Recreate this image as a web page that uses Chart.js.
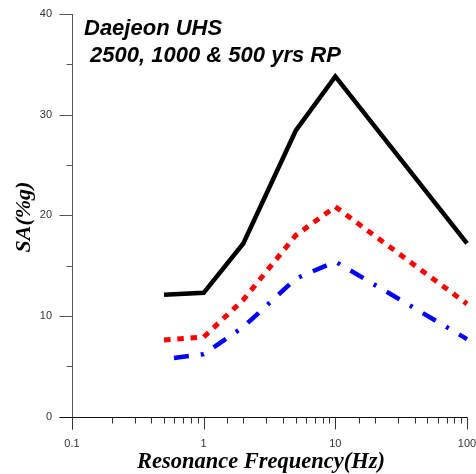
<!DOCTYPE html>
<html><head><meta charset="utf-8">
<script src="https://cdn.jsdelivr.net/npm/chart.js@4"></script>
<style>html,body{margin:0;padding:0;background:#fff}canvas{display:block}</style>
</head><body>
<canvas id="c" width="476" height="474"></canvas>
<script>
const freqs = [0.5, 1, 2, 5, 10, 100];
const rp2500 = [12.1, 12.3, 17.2, 28.4, 33.8, 17.2];
const rp1000 = [7.6, 7.9, 11.6, 18.0, 20.85, 11.2];
const rp500 = [5.7, 6.2, 8.9, 13.7, 15.4, 7.7];
const xTickLabels = [0.1, 1, 10, 100];
const yTickLabels = [0, 10, 20, 30, 40];
const titleLines = ['Daejeon UHS', ' 2500, 1000 & 500 yrs RP'];
const xTitle = 'Resonance Frequency(Hz)';
const yTitle = 'SA(%g)';

const pts = arr => freqs.map((f, i) => ({x: f, y: arr[i]}));
const isMajorX = v => xTickLabels.some(t => Math.abs(t - v) < 1e-9 * Math.max(1, t));

const axesPlugin = {
  id: 'axesDeco',
  afterDraw(chart) {
    const {ctx, chartArea: a, scales: {x, y}} = chart;
    ctx.save();
    const ax = Math.round(a.left) + 0.5;
    const ay = Math.round(a.bottom) + 0.5;
    ctx.lineWidth = 1;
    ctx.strokeStyle = '#555';
    ctx.beginPath(); ctx.moveTo(ax, Math.round(a.top)); ctx.lineTo(ax, ay + 12); ctx.stroke();
    y.ticks.forEach(t => {
      const py = Math.round(y.getPixelForValue(t.value)) + 0.5;
      const len = yTickLabels.includes(t.value) ? 13 : 6;
      ctx.beginPath(); ctx.moveTo(ax - len, py); ctx.lineTo(ax, py); ctx.stroke();
    });
    ctx.strokeStyle = '#111';
    ctx.beginPath(); ctx.moveTo(ax - 13, ay); ctx.lineTo(Math.round(a.right) + 0.5, ay); ctx.stroke();
    ctx.strokeStyle = '#333';
    x.ticks.forEach(t => {
      const px = Math.round(x.getPixelForValue(t.value)) + 0.5;
      const len = isMajorX(t.value) ? 12 : 6;
      ctx.beginPath(); ctx.moveTo(px, ay); ctx.lineTo(px, ay + len); ctx.stroke();
    });
    ctx.fillStyle = '#000';
    ctx.font = 'italic bold 22px "Liberation Sans", Arial, sans-serif';
    ctx.textAlign = 'left'; ctx.textBaseline = 'alphabetic';
    ctx.fillText(titleLines[0], 84, 35);
    ctx.fillText(titleLines[1], 84, 62);
    ctx.font = 'italic bold 22.5px "Liberation Serif", "Times New Roman", serif';
    ctx.textAlign = 'center';
    ctx.fillText(xTitle, 261, 468);
    ctx.save();
    ctx.translate(30, 217);
    ctx.rotate(-Math.PI / 2);
    ctx.font = 'italic bold 22px "Liberation Serif", "Times New Roman", serif';
    ctx.fillText(yTitle, 0, 0);
    ctx.restore();
    ctx.restore();
  }
};

const zeroPad = s => { s.paddingLeft = 0; s.paddingRight = 0; s.paddingTop = 0; s.paddingBottom = 0; };

new Chart(document.getElementById('c'), {
  type: 'line',
  data: {
    datasets: [
      {label: '2500 yrs RP', data: pts(rp2500), borderColor: '#000', borderWidth: 4.5,
       borderJoinStyle: 'miter', borderCapStyle: 'butt'},
      {label: '1000 yrs RP', data: pts(rp1000), borderColor: '#ff0000', borderWidth: 5,
       borderDash: [6.5, 6.8], borderCapStyle: 'butt'},
      {label: '500 yrs RP', data: pts(rp500), borderColor: '#0000ff', borderWidth: 4.5,
       borderDash: [15, 12, 3, 12], borderDashOffset: 32, borderCapStyle: 'butt'}
    ]
  },
  options: {
    responsive: false,
    devicePixelRatio: 1,
    animation: false,
    clip: false,
    elements: {point: {radius: 0, hoverRadius: 0}, line: {tension: 0, fill: false}},
    layout: {padding: {top: 14, right: 9, left: 0, bottom: 0}},
    plugins: {legend: {display: false}, tooltip: {enabled: false}, title: {display: false}},
    scales: {
      x: {
        type: 'logarithmic', min: 0.1, max: 100,
        grid: {display: false, drawTicks: true, tickLength: 8},
        border: {display: false},
        ticks: {
          autoSkip: false, maxRotation: 0, padding: 13, color: '#333',
          font: {family: '"Liberation Sans", Arial, sans-serif', size: 11},
          callback: v => isMajorX(v) ? String(v) : ''
        },
        afterFit: s => { s.height = 57.4; zeroPad(s); }
      },
      y: {
        min: 0, max: 40,
        grid: {display: false, drawTicks: true, tickLength: 8},
        border: {display: false},
        ticks: {
          stepSize: 5, autoSkip: false, padding: 12, color: '#333',
          font: {family: '"Liberation Sans", Arial, sans-serif', size: 11},
          callback: v => yTickLabels.includes(v) ? String(v) : ''
        },
        afterFit: s => { s.width = 72; zeroPad(s); }
      }
    }
  },
  plugins: [axesPlugin]
});
</script>
</body></html>
